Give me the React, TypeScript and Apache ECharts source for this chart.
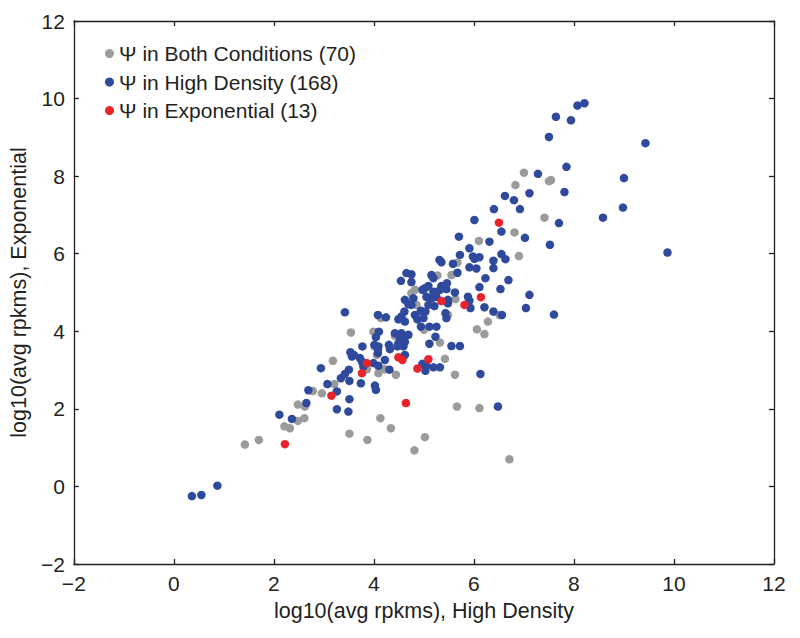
import React, { useEffect, useRef } from "react";
import * as echarts from "echarts";

const xTicks = [-2, 0, 2, 4, 6, 8, 10, 12];
const yTicks = [-2, 0, 2, 4, 6, 8, 10, 12];

const seriesNames = [
  "Ψ in Both Conditions (70)",
  "Ψ in High Density (168)",
  "Ψ in Exponential (13)",
];

// [log10 rpkm High Density, log10 rpkm Exponential]
const bothConditions: [number, number][] = [
  [1.42, 1.08], [1.7, 1.2], [2.21, 1.55], [2.32, 1.5], [2.48, 1.69], [2.61, 1.76],
  [2.48, 2.11], [2.62, 2.06], [2.78, 2.46], [2.96, 2.4], [3.21, 2.64], [3.18, 3.24],
  [4.01, 3.61], [5.32, 3.71], [4.06, 3.39], [3.86, 3.02], [4.09, 2.92], [4.22, 3.02],
  [4.44, 2.88], [5.42, 3.29], [4.13, 1.76], [4.34, 1.5], [3.51, 1.36], [3.87, 1.2],
  [5.02, 1.27], [4.81, 0.93], [5.27, 5.44], [4.82, 5.07], [4.75, 4.98], [4.85, 4.68],
  [4.14, 4.34], [5.0, 4.04], [3.54, 3.97], [3.99, 3.99], [4.42, 3.88], [5.67, 5.77],
  [5.55, 5.45], [5.48, 4.42], [7.0, 8.09], [7.54, 7.9], [7.5, 7.87], [6.83, 7.77],
  [7.41, 6.93], [6.81, 6.55], [6.1, 6.33], [6.9, 5.94], [5.63, 4.83], [6.51, 4.42],
  [6.28, 4.25], [6.06, 4.05], [6.21, 3.93], [5.62, 2.88], [5.66, 2.06], [6.11, 2.02],
  [6.71, 0.7],
];

const highDensity: [number, number][] = [
  [0.36, -0.25], [0.55, -0.22], [0.87, 0.02], [2.11, 1.85], [2.36, 1.74], [2.65, 2.15],
  [2.69, 2.48], [3.07, 2.64], [3.26, 2.45], [3.26, 1.99], [2.94, 3.05], [3.34, 2.79],
  [3.77, 3.61], [4.09, 3.61], [4.3, 3.65], [4.32, 3.54], [4.47, 3.61], [4.59, 3.61],
  [4.62, 3.73], [5.11, 3.68], [3.53, 3.46], [3.56, 3.35], [3.6, 3.39], [3.72, 3.31],
  [4.08, 3.44], [4.08, 3.52], [3.76, 3.22], [3.79, 3.09], [3.99, 3.18], [4.09, 3.11],
  [4.22, 3.26], [4.31, 3.01], [4.62, 3.39], [4.97, 3.16], [5.05, 3.11], [5.03, 2.98],
  [5.19, 3.07], [5.32, 3.07], [3.42, 2.9], [3.51, 2.72], [3.5, 3.01], [3.74, 2.66],
  [4.02, 2.6], [4.04, 2.49], [3.51, 2.25], [3.49, 1.93], [5.31, 5.84], [5.35, 5.78],
  [4.65, 5.5], [4.75, 5.47], [4.54, 5.3], [4.75, 5.27], [5.15, 5.45], [5.19, 5.37],
  [5.46, 5.24], [5.02, 5.11], [4.97, 5.07], [5.09, 5.17], [5.19, 5.02], [5.32, 5.07],
  [5.45, 5.09], [5.05, 4.89], [5.15, 4.85], [5.25, 4.89], [5.48, 4.81], [4.62, 4.81],
  [4.69, 4.7], [4.79, 4.85], [4.75, 4.68], [5.09, 4.68], [5.21, 4.65], [4.94, 4.53],
  [5.03, 4.51], [5.43, 4.47], [5.45, 4.34], [3.42, 4.49], [4.08, 4.42], [4.24, 4.36],
  [4.61, 4.51], [4.55, 4.38], [4.49, 4.31], [4.62, 4.25], [4.82, 4.42], [4.87, 4.31],
  [4.99, 4.34], [4.94, 4.12], [5.11, 4.12], [5.25, 4.12], [4.1, 3.99], [4.04, 3.85],
  [4.01, 3.65], [4.42, 3.95], [4.55, 3.95], [4.52, 3.82], [4.62, 3.86], [4.69, 3.91],
  [4.49, 3.69], [5.23, 3.86], [5.72, 5.97], [5.58, 5.74], [5.67, 5.51], [5.62, 5.0],
  [5.48, 4.72], [5.55, 3.62], [5.72, 3.62], [7.85, 8.24], [7.28, 8.06], [7.11, 7.56],
  [7.81, 7.59], [6.62, 7.49], [6.8, 7.38], [6.4, 7.15], [6.92, 7.15], [6.01, 6.87],
  [7.7, 6.79], [6.55, 6.57], [7.02, 6.41], [5.7, 6.44], [6.31, 6.31], [7.52, 6.23],
  [5.91, 6.14], [5.98, 5.93], [6.01, 5.87], [6.11, 5.91], [6.55, 5.99], [6.63, 5.86],
  [6.39, 5.82], [5.91, 5.65], [6.05, 5.62], [6.39, 5.63], [6.23, 5.37], [6.69, 5.32],
  [5.35, 5.17], [6.11, 5.14], [6.53, 5.09], [7.11, 4.94], [5.88, 4.89], [5.91, 4.79],
  [5.93, 4.6], [6.21, 4.62], [6.39, 4.51], [6.56, 4.42], [7.04, 4.6], [7.6, 4.43],
  [6.13, 2.9], [6.48, 2.06], [8.07, 9.82], [8.21, 9.88], [7.64, 9.53], [7.94, 9.44],
  [7.5, 9.01], [9.43, 8.85], [9.0, 7.95], [8.98, 7.19], [8.58, 6.93], [9.87, 6.03],
];

const exponential: [number, number][] = [
  [2.22, 1.09], [3.15, 2.34], [3.86, 3.18], [3.76, 2.92], [4.49, 3.33], [4.57, 3.26],
  [4.87, 3.04], [5.09, 3.28], [4.64, 2.15], [5.35, 4.78], [6.5, 6.8], [6.14, 4.88],
  [5.81, 4.68],
];

const colors = ["#9b9b9b", "#2f4a9d", "#e8242b"];

const FONT = "'Liberation Sans', Arial, Helvetica, sans-serif";
const TEXT = "#231f20";

export default function App() {
  const ref = useRef<HTMLDivElement>(null);

  useEffect(() => {
    if (!ref.current) return;
    const chart = echarts.init(ref.current, null, { renderer: "svg" });
    const fmt = (v: number) => String(v).replace("-", "\u2212");
    const lineStyle = { color: TEXT, width: 1.3 };
    const baseAxis = {
      interval: 2,
      splitLine: { show: false },
      axisLine: { show: true, onZero: false, lineStyle },
      axisTick: { show: true, inside: true, length: 5, lineStyle },
    };
    const labelStyle = { show: true, margin: 9, fontSize: 21, color: TEXT, fontFamily: FONT, formatter: fmt };
    const nameStyle = { fontFamily: FONT, fontSize: 21.5, color: TEXT };
    chart.setOption({
      animation: false,
      backgroundColor: "#ffffff",
      textStyle: { fontFamily: FONT },
      grid: { left: 71, right: 26, top: 21, bottom: 74, containLabel: false },
      legend: {
        orient: "vertical",
        left: 100,
        top: 38,
        itemWidth: 9,
        itemHeight: 9,
        itemGap: 7.5,
        icon: "circle",
        data: seriesNames,
        textStyle: { fontFamily: FONT, fontSize: 21, color: TEXT },
      },
      xAxis: [
        {
          ...baseAxis,
          type: "value",
          position: "bottom",
          min: xTicks[0],
          max: xTicks[xTicks.length - 1],
          name: "log10(avg rpkms), High Density",
          nameLocation: "middle",
          nameGap: 36,
          nameTextStyle: nameStyle,
          axisLabel: labelStyle,
        },
        {
          ...baseAxis,
          type: "value",
          position: "top",
          min: xTicks[0],
          max: xTicks[xTicks.length - 1],
          axisLabel: { show: false },
        },
      ],
      yAxis: [
        {
          ...baseAxis,
          type: "value",
          position: "left",
          min: yTicks[0],
          max: yTicks[yTicks.length - 1],
          name: "log10(avg rpkms), Exponential",
          nameLocation: "middle",
          nameGap: 39,
          nameTextStyle: nameStyle,
          axisLabel: labelStyle,
        },
        {
          ...baseAxis,
          type: "value",
          position: "right",
          min: yTicks[0],
          max: yTicks[yTicks.length - 1],
          axisLabel: { show: false },
        },
      ],
      series: [
        { name: seriesNames[0], type: "scatter", data: bothConditions, symbolSize: 8.5, itemStyle: { color: colors[0], opacity: 1 }, z: 2 },
        { name: seriesNames[1], type: "scatter", data: highDensity, symbolSize: 8.5, itemStyle: { color: colors[1], opacity: 1 }, z: 3 },
        { name: seriesNames[2], type: "scatter", data: exponential, symbolSize: 8.5, itemStyle: { color: colors[2], opacity: 1 }, z: 4 },
      ],
    });
    return () => chart.dispose();
  }, []);

  return <div ref={ref} style={{ width: 800, height: 638, position: "absolute", left: 0, top: 0 }} />;
}
